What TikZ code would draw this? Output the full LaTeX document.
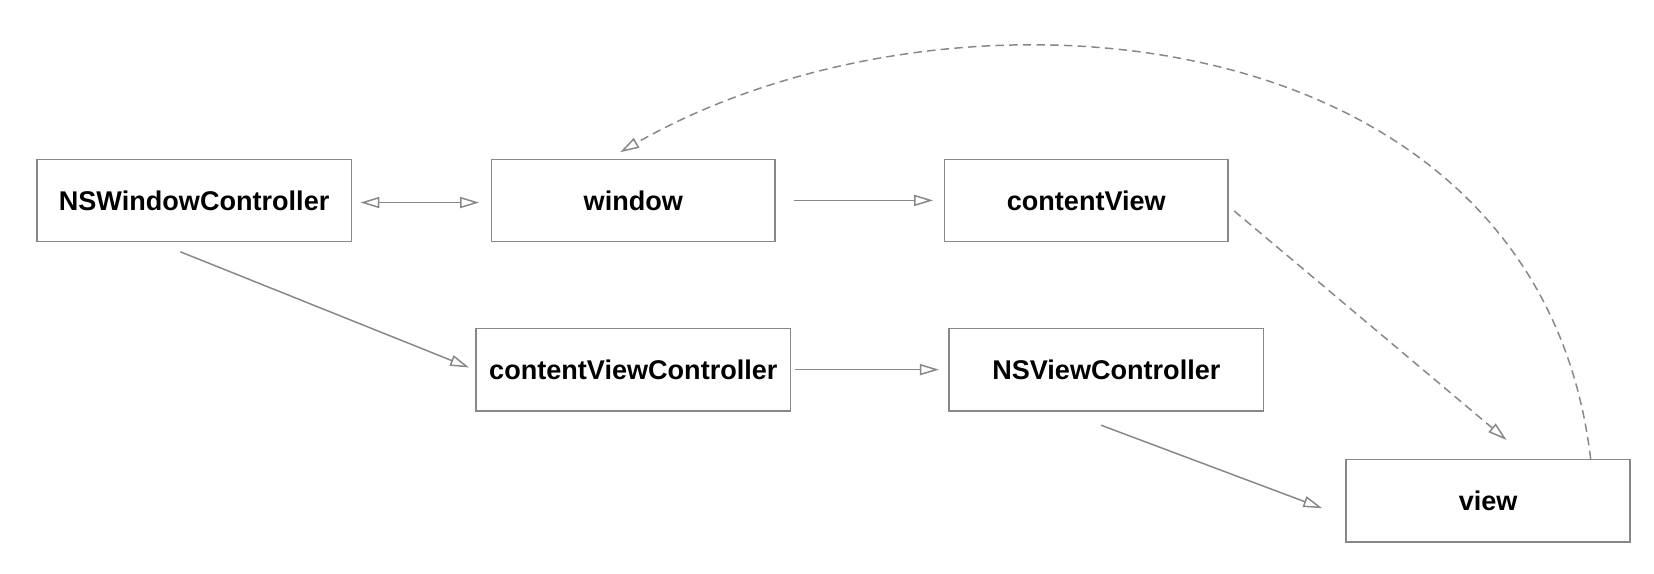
\documentclass[tikz,border=0pt]{standalone}
\usepackage{fontspec}
\setmainfont{Liberation Sans}
\usepackage{xcolor}
\usetikzlibrary{positioning}
\usetikzlibrary{arrows.meta}
\definecolor{linegray}{RGB}{136,136,136}
\begin{document}
\begin{tikzpicture}[  node distance=2cm,  block/.style={    draw=linegray,    line width=0.8pt,    rectangle,    minimum width=5.38cm,    minimum height=1.56cm,    align=center,    font=\fontsize{14.6}{17}\selectfont\bfseries  },  wideblock/.style={    block,    minimum width=5.96cm  },  arrow/.style={    -{Triangle[open,length=3.6mm,width=2.1mm]},    draw=linegray,    line width=0.8pt  },  dasharrow/.style={    arrow,    dash pattern=on 1.6mm off 1mm  }]
		\useasboundingbox (0,0) rectangle (31.36,-10.88);
		% Nodes
		\node[wideblock] (nswc) at (3.68,-3.8) {NSWindowController};
		\node[block, right=2.63cm of nswc] (window) {window};
		\node[block, right=3.18cm of window] (contentView) {contentView};
		\node[wideblock, below=1.62cm of window] (cvc) {contentViewController};
		\node[wideblock, right=2.98cm of cvc] (nsvc) {NSViewController};
		\node[block, below right=0.9cm and 1.54cm of nsvc] (view) {view};
		% Arrows
		\draw[arrow, {Triangle[open,length=3.6mm,width=2.1mm]}-{Triangle[open,length=3.6mm,width=2.1mm]}, shorten <=0.16cm, shorten >=0.22cm] ([yshift=-0.04cm]nswc.east) -- ([yshift=-0.04cm]window.west);
		\draw[arrow, shorten <=0.34cm, shorten >=0.2cm] (window) -- (contentView);
		\draw[arrow] ([xshift=-0.26cm,yshift=-0.18cm]nswc.south) -- ([xshift=-0.12cm,yshift=0.04cm]cvc.west);
		\draw[arrow, shorten <=0.08cm, shorten >=0.18cm] (cvc) -- (nsvc);
		\draw[arrow] ([xshift=-0.1cm,yshift=-0.26cm]nsvc.south) -- ([xshift=-0.44cm,yshift=-0.14cm]view.west);
		\draw[dasharrow] ([xshift=0.1cm,yshift=-0.2cm]contentView.east) -- ([xshift=0.35cm,yshift=0.36cm]view.north);
		\draw[dasharrow] ([xshift=-0.76cm]view.north east) .. controls +(-1.0,8.5) and +(6.3,3.6) .. ([xshift=-0.25cm,yshift=0.12cm]window.north);
	\end{tikzpicture}
\end{document}
